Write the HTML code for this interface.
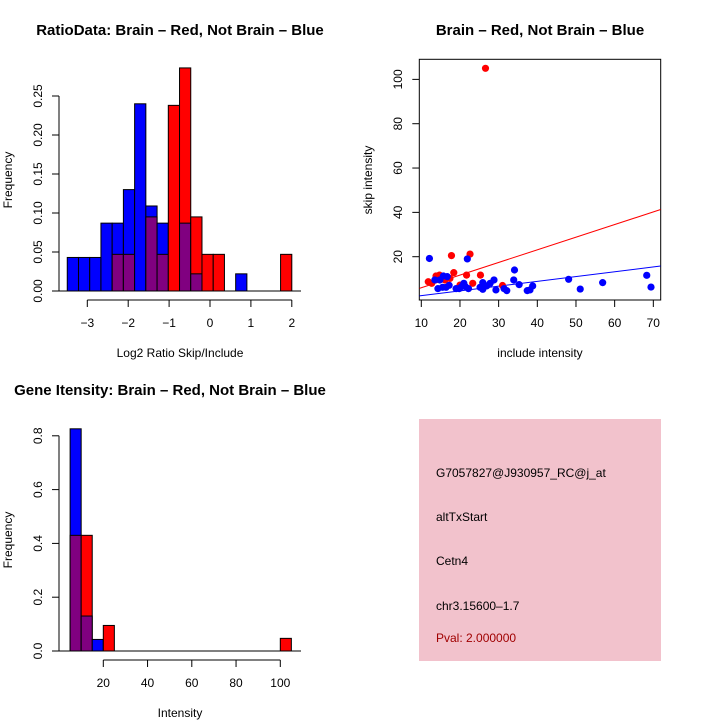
<!DOCTYPE html>
<html><head><meta charset="utf-8"><style>
body{margin:0;background:#fff}
svg{display:block;font-family:"Liberation Sans",sans-serif}
</style></head><body>
<svg id="s" width="720" height="720" viewBox="0 0 720 720">
<text x="180" y="35" font-size="15" font-weight="bold" text-anchor="middle">RatioData: Brain – Red, Not Brain – Blue</text>
<text x="540" y="35" font-size="15" font-weight="bold" text-anchor="middle">Brain – Red, Not Brain – Blue</text>
<text x="170" y="395" font-size="15" font-weight="bold" text-anchor="middle">Gene Itensity: Brain – Red, Not Brain – Blue</text>
<text x="180" y="357" font-size="12" text-anchor="middle">Log2 Ratio Skip/Include</text>
<text transform="translate(12,180) rotate(-90)" font-size="12" text-anchor="middle">Frequency</text>
<text x="540" y="357" font-size="12" text-anchor="middle">include intensity</text>
<text transform="translate(372,180) rotate(-90)" font-size="12" text-anchor="middle">skip intensity</text>
<text x="180" y="717" font-size="12" text-anchor="middle">Intensity</text>
<text transform="translate(12,540) rotate(-90)" font-size="12" text-anchor="middle">Frequency</text>
<g>
<rect x="419" y="419" width="242" height="242" fill="#f2c2cc"/>
<text x="436" y="477" font-size="12">G7057827@J930957_RC@j_at</text>
<text x="436" y="521" font-size="12">altTxStart</text>
<text x="436" y="565" font-size="12">Cetn4</text>
<text x="436" y="610" font-size="12">chr3.15600–1.7</text>
<text x="436" y="642" font-size="12" fill="#a00000">Pval: 2.000000</text>
</g>
</svg>
<script>
// Ratio histogram data
const ratioStart = -3.49, ratioWidth = 0.2745;
const ratioBlue = [0.043,0.043,0.043,0.087,0.087,0.13,0.24,0.109,0.087,0,0.087,0.022,0,0,0,0.022,0,0,0,0];
const ratioRed  = [0,0,0,0,0.047,0.047,0,0.095,0.047,0.238,0.286,0.095,0.047,0.047,0,0,0,0,0,0.047];
const ratioXTicks = [-3,-2,-1,0,1,2];
const ratioYTicks = ["0.00","0.05","0.10","0.15","0.20","0.25"];
// Intensity histogram data
const intStart = 5, intWidth = 5;
const intBlue = [0.826,0.13,0.043,0,0,0,0,0,0,0,0,0,0,0,0,0,0,0,0,0];
const intRed  = [0.43,0.43,0,0.095,0,0,0,0,0,0,0,0,0,0,0,0,0,0,0,0.047];
const intXTicks = [20,40,60,80,100];
const intYTicks = ["0.0","0.2","0.4","0.6","0.8"];
// Scatter data
const redX = [26.6,11.8,12.7,13.8,14.7,17.8,18.4,17.4,16.1,22.6,21.7,23.3,25.3,31,20];
const redY = [105,8.7,8,11.3,11.7,20.5,12.8,10.2,9.5,21.2,11.7,8,11.7,7,7.2];
const blueX = [12.1,21.9,34.1,68.3,69.4,56.9,51.1,48.1,33.9,35.3,38.8,38.1,37.4,32.1,31.4,29.3,28.8,27.8,26.9,25.9,25.9,25.2,22.2,21,20.4,19.8,19,17.2,16.7,15.7,14.8,13.5,14.3,15.5,16.4,21.4];
const blueY = [19.2,19,14,11.6,6.3,8.3,5.4,9.8,9.5,7.4,6.8,5,4.7,4.7,5.6,5,9.5,8,6.8,8.3,5.3,6.2,5.6,8,6.5,5.6,5.6,7.1,11,11.3,9.5,9.5,5.6,6.2,6.2,6.5];
const redFit = [0.3,0.57];
const blueFit = [0.25,0.216];
const scatterXTicks = [10,20,30,40,50,60,70];
const scatterYTicks = [20,40,60,80,100];

const S = document.getElementById('s');
const NS = 'http://www.w3.org/2000/svg';
function mk(tag, attrs, parent){const e=document.createElementNS(NS,tag);for(const k in attrs)e.setAttribute(k,attrs[k]);(parent||S).appendChild(e);return e;}

function hist(g, start, width, blue, red, sx, sy, y0){
  for(let i=0;i<blue.length;i++){
    const x0=sx(start+i*width), x1=sx(start+(i+1)*width);
    const b=blue[i], r=red[i];
    const hi=Math.max(b,r), lo=Math.min(b,r);
    if(hi>0){
      const bar=mk('rect',{x:x0,y:sy(hi),width:x1-x0,height:y0-sy(hi),fill:b>=r?'#0000ff':'#ff0000',stroke:'#000','stroke-width':1},g);
      
      
    }
    if(lo>0){
      const ov=mk('rect',{x:x0,y:sy(lo),width:x1-x0,height:y0-sy(lo),fill:'#800080',stroke:'#000','stroke-width':1},g);
      
      
    }
  }
}
function xaxis(g, ticks, sx, y, labY, labels){
  mk('line',{x1:sx(ticks[0]),x2:sx(ticks[ticks.length-1]),y1:y,y2:y,stroke:'#000'},g);
  ticks.forEach((t,i)=>{mk('line',{x1:sx(t),x2:sx(t),y1:y,y2:y+7,stroke:'#000'},g);
    const tx=mk('text',{x:sx(t),y:labY,'font-size':12,'text-anchor':'middle'},g);tx.textContent=labels?labels[i]:String(t).replace('-','−');});
}
function yaxis(g, vals, labels, sy, x){
  mk('line',{x1:x,x2:x,y1:sy(vals[0]),y2:sy(vals[vals.length-1]),stroke:'#000'},g);
  vals.forEach((v,i)=>{mk('line',{x1:x-7,x2:x,y1:sy(v),y2:sy(v),stroke:'#000'},g);
    const tx=mk('text',{transform:`translate(${x-17},${sy(v)}) rotate(-90)`,'font-size':12,'text-anchor':'middle'},g);tx.textContent=labels[i];});
}

// Ratio histogram
{
  const g=mk('g',{});
  
  
  const sx=v=>87.3+(v+3)*40.9, sy=v=>291-v*780;
  hist(g,ratioStart,ratioWidth,ratioBlue,ratioRed,sx,sy,291);
  mk('line',{x1:59,x2:301,y1:291,y2:291,stroke:'#000'},g);
  xaxis(g,ratioXTicks,sx,300,327);
  yaxis(g,ratioYTicks.map(Number),ratioYTicks,sy,59);
}
// Intensity histogram
{
  const g=mk('g',{});
  
  
  const sx=v=>103.3+(v-20)*2.2125, sy=v=>651-v*269;
  hist(g,intStart,intWidth,intBlue,intRed,sx,sy,651);
  mk('line',{x1:59,x2:301,y1:651,y2:651,stroke:'#000'},g);
  xaxis(g,intXTicks,sx,660,687);
  yaxis(g,intYTicks.map(Number),intYTicks,sy,59);
}
// Scatter
{
  const g=mk('g',{});
  
  
  const sx=v=>421.3+(v-10)*3.867, sy=v=>256.7-(v-20)*2.2165;
  mk('rect',{x:419.3,y:59.3,width:241.4,height:240.7,fill:'none',stroke:'#000'},g);
  const cl=mk('clipPath',{id:'c'},g);mk('rect',{x:419.3,y:59.3,width:241.4,height:240.7},cl);
  const xl=9.5, xr=71.9;
  [[redFit,'#ff0000'],[blueFit,'#0000ff']].forEach(([f,c])=>{
    const ln=mk('line',{x1:sx(xl),y1:sy(f[0]+f[1]*xl),x2:sx(xr),y2:sy(f[0]+f[1]*xr),stroke:c,'clip-path':'url(#c)'},g);
    
    
  });
  redX.forEach((x,i)=>{const p=mk('circle',{cx:sx(x),cy:sy(redY[i]),r:3.6,fill:'#ff0000'},g);
    
    });
  blueX.forEach((x,i)=>{const p=mk('circle',{cx:sx(x),cy:sy(blueY[i]),r:3.6,fill:'#0000ff'},g);
    
    });
  scatterXTicks.forEach(t=>{mk('line',{x1:sx(t),x2:sx(t),y1:300,y2:307,stroke:'#000'},g);
    const tx=mk('text',{x:sx(t),y:327,'font-size':12,'text-anchor':'middle'},g);tx.textContent=t;});
  scatterYTicks.forEach(t=>{mk('line',{x1:412.3,x2:419.3,y1:sy(t),y2:sy(t),stroke:'#000'},g);
    const tx=mk('text',{transform:`translate(402,${sy(t)}) rotate(-90)`,'font-size':12,'text-anchor':'middle'},g);tx.textContent=t;});
}
</script>
</body></html>
